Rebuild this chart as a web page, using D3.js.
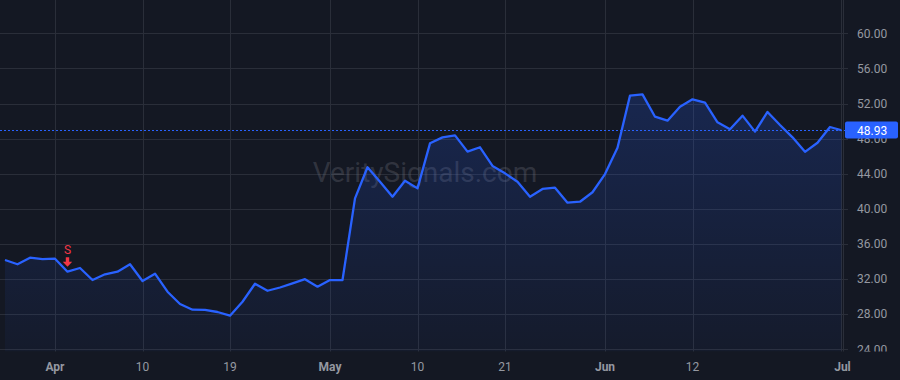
<!DOCTYPE html>
<html>
<head>
<meta charset="utf-8">
<script src="https://cdn.jsdelivr.net/npm/d3@7"></script>
<style>
  html, body { margin: 0; padding: 0; background: #141823; }
  svg { display: block; font-family: Roboto, "Liberation Sans", sans-serif; }
</style>
</head>
<body>
<div id="chart"></div>
<script>
// chart size
var width = 900;
var height = 380;

// trading days (2024)
var dates = [
  "2024-03-25","2024-03-26","2024-03-27","2024-03-28",
  "2024-04-01","2024-04-02","2024-04-03","2024-04-04","2024-04-05","2024-04-08","2024-04-09","2024-04-10",
  "2024-04-11","2024-04-12","2024-04-15","2024-04-16","2024-04-17","2024-04-18","2024-04-19","2024-04-22",
  "2024-04-23","2024-04-24","2024-04-25","2024-04-26","2024-04-29","2024-04-30",
  "2024-05-01","2024-05-02","2024-05-03","2024-05-06","2024-05-07","2024-05-08","2024-05-09","2024-05-10",
  "2024-05-13","2024-05-14","2024-05-15","2024-05-16","2024-05-17","2024-05-20","2024-05-21","2024-05-22",
  "2024-05-23","2024-05-24","2024-05-28","2024-05-29","2024-05-30","2024-05-31",
  "2024-06-03","2024-06-04","2024-06-05","2024-06-06","2024-06-07","2024-06-10","2024-06-11","2024-06-12",
  "2024-06-13","2024-06-14","2024-06-17","2024-06-18","2024-06-20","2024-06-21","2024-06-24","2024-06-25",
  "2024-06-26","2024-06-27","2024-06-28",
  "2024-07-01"
];

// closing prices
var prices = [
  34.18, 33.70, 34.44, 34.29,
  34.33, 32.85, 33.27, 31.90, 32.55, 32.85, 33.70, 31.79,
  32.62, 30.57, 29.17, 28.52, 28.49, 28.26, 27.84, 29.43,
  31.48, 30.68, 31.05, 31.52, 32.00, 31.14,
  31.90, 31.90, 41.20, 44.74, 43.10, 41.39, 43.21, 42.34,
  47.47, 48.15, 48.38, 46.52, 47.02, 44.89, 44.05, 43.10,
  41.39, 42.27, 42.42, 40.71, 40.82, 41.90,
  43.97, 46.97, 52.90, 53.05, 50.50, 50.05, 51.64, 52.48,
  52.10, 49.86, 49.07, 50.62, 48.80, 51.04, 49.56, 48.15,
  46.50, 47.54, 49.33,
  48.93
];

// x axis ticks
var tickDates = ["2024-04-01","2024-04-10","2024-04-19","2024-05-01","2024-05-10","2024-05-21","2024-06-03","2024-06-12","2024-07-01"];
var tickLabels = ["Apr","10","19","May","10","21","Jun","12","Jul"];
var monthTicks = ["Apr","May","Jun","Jul"];

// y axis ticks
var priceTicks = [24, 28, 32, 36, 40, 44, 48, 52, 56, 60];

// signals
var signalDates = ["2024-04-02"];
var signalTypes = ["S"];

var lastPrice = prices[prices.length - 1];

// layout
var plotRight = 841.5;
var plotBottom = 351.5;
var lineColor = "#2962ff";

var svg = d3.select("#chart").append("svg")
  .attr("width", width)
  .attr("height", height);

svg.append("rect").attr("width", width).attr("height", height).attr("fill", "#141823");

var x = d3.scaleLinear().domain([0, dates.length - 1]).range([5, 842.5]);
var y = d3.scaleLinear().domain([24, 60]).range([349.4, 33.3]);

function xd(date) { return x(dates.indexOf(date)); }

var defs = svg.append("defs");
var grad = defs.append("linearGradient")
  .attr("id", "areaGrad").attr("x1", 0).attr("y1", 0).attr("x2", 0).attr("y2", 1);
grad.append("stop").attr("offset", "0%").attr("stop-color", lineColor).attr("stop-opacity", 0.2);
grad.append("stop").attr("offset", "100%").attr("stop-color", lineColor).attr("stop-opacity", 0.04);

defs.append("clipPath").attr("id", "plotClip")
  .append("rect").attr("x", 0).attr("y", 0).attr("width", plotRight).attr("height", plotBottom);
defs.append("clipPath").attr("id", "axisClip")
  .append("rect").attr("x", 0).attr("y", 0).attr("width", width).attr("height", plotBottom);

// grid lines
var grid = svg.append("g").attr("class", "grid");
grid.selectAll("line.h").data(priceTicks).enter().append("line")
  .attr("x1", 0).attr("x2", 848)
  .attr("y1", function(d){ return Math.round(y(d)) + 0.5; })
  .attr("y2", function(d){ return Math.round(y(d)) + 0.5; })
  .attr("stroke", "#2a2e39").attr("stroke-width", 1);
grid.selectAll("line.v").data(tickDates).enter().append("line")
  .attr("x1", function(d){ return Math.round(xd(d)) + 0.5; })
  .attr("x2", function(d){ return Math.round(xd(d)) + 0.5; })
  .attr("y1", 0).attr("y2", plotBottom)
  .attr("stroke", "#2a2e39").attr("stroke-width", 1);

// plot separator
svg.append("line")
  .attr("x1", plotRight).attr("x2", plotRight).attr("y1", 0).attr("y2", plotBottom)
  .attr("stroke", "#2a2e39");

// watermark
svg.append("text")
  .attr("x", 425).attr("y", 182)
  .attr("text-anchor", "middle")
  .attr("font-size", 28)
  .attr("fill", "#787b86").attr("fill-opacity", 0.3)
  .text("VeritySignals.com");

var plot = svg.append("g").attr("clip-path", "url(#plotClip)");

var area = d3.area()
  .x(function(d, i){ return x(i); })
  .y0(plotBottom)
  .y1(function(d){ return y(d); });

var line = d3.line()
  .x(function(d, i){ return x(i); })
  .y(function(d){ return y(d); });

plot.append("path").datum(prices).attr("d", area).attr("fill", "url(#areaGrad)");
plot.append("path").datum(prices).attr("d", line)
  .attr("fill", "none").attr("stroke", lineColor).attr("stroke-width", 2.3)
  .attr("stroke-linejoin", "round");

// last price line
svg.append("line")
  .attr("x1", 0).attr("x2", 846)
  .attr("y1", y(lastPrice)).attr("y2", y(lastPrice))
  .attr("stroke", lineColor).attr("stroke-width", 1)
  .attr("stroke-dasharray", "2,2");

// signal markers
signalDates.forEach(function(d, i){
  var sx = xd(d);
  var sy = y(prices[dates.indexOf(d)]);
  var g = svg.append("g").attr("transform", "translate(" + sx + "," + sy + ")");
  g.append("text")
    .attr("x", 0).attr("y", -18)
    .attr("text-anchor", "middle")
    .attr("font-size", 12)
    .attr("fill", "#f23645")
    .text(signalTypes[i]);
  g.append("path")
    .attr("d", "M-1.7,-14.5 L1.7,-14.5 L1.7,-10 L4.7,-10 L0,-5 L-4.7,-10 L-1.7,-10 Z")
    .attr("fill", "#f23645");
});

// right price axis
var yAxisG = svg.append("g").attr("clip-path", "url(#axisClip)");
yAxisG.selectAll("text").data(priceTicks).enter().append("text")
  .attr("x", 857)
  .attr("y", function(d){ return y(d); })
  .attr("dy", "0.35em")
  .attr("font-size", 12)
  .attr("fill", "#9598a1")
  .text(function(d){ return d3.format(".2f")(d); });

// last price label
var ly = y(lastPrice);
svg.append("rect")
  .attr("x", 845).attr("y", ly - 9)
  .attr("width", 53).attr("height", 17)
  .attr("rx", 2)
  .attr("fill", lineColor);
svg.append("text")
  .attr("x", 857).attr("y", ly)
  .attr("dy", "0.35em")
  .attr("font-size", 12)
  .attr("fill", "#ffffff")
  .text(d3.format(".2f")(lastPrice));

// bottom time axis
svg.append("g").selectAll("text").data(tickDates).enter().append("text")
  .attr("x", function(d){ return xd(d); })
  .attr("y", 371)
  .attr("text-anchor", "middle")
  .attr("font-size", 12)
  .attr("font-weight", function(d, i){ return monthTicks.indexOf(tickLabels[i]) >= 0 ? "bold" : "normal"; })
  .attr("fill", "#9598a1")
  .text(function(d, i){ return tickLabels[i]; });
</script>
</body>
</html>
